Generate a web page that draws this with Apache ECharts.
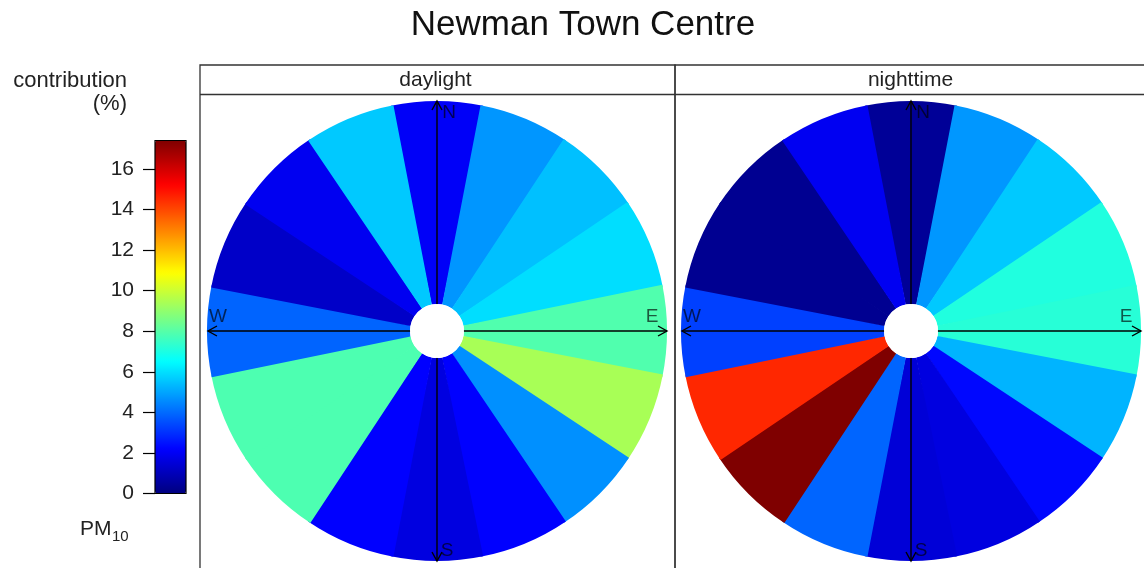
<!DOCTYPE html>
<html><head><meta charset="utf-8">
<script src="https://cdn.jsdelivr.net/npm/echarts@6/dist/echarts.min.js"></script>
<style>html,body{margin:0;padding:0;background:#fff}#c{width:1144px;height:568px}</style>
</head><body><div id="c"></div>
<script>
// ---- data ----
const directions = ['N','NNE','NE','ENE','E','ESE','SE','SSE','S','SSW','SW','WSW','W','WNW','NW','NNW'];
const daylight  = [2.05, 4.74, 5.45, 5.96, 7.9, 9.4, 4.64, 2.17, 1.65, 2.17, 7.85, 7.85, 3.89, 1.24, 1.93, 5.6];
const nighttime = [0.4, 4.75, 5.6, 7.07, 7.2, 5.25, 2.3, 1.65, 1.5, 3.9, 17.4, 14.55, 3.27, 0.3, 0.3, 1.95];
const panelNames = ['daylight', 'nighttime'];
const colorTicks = [0, 2, 4, 6, 8, 10, 12, 14, 16];
const scaleMax = 17.4;
const jet = ['#00007F','#0000FF','#007FFF','#00FFFF','#7FFF7F','#FFFF00','#FF7F00','#FF0000','#7F0000'];

// ---- layout ----
const FONT = '"Liberation Sans", Arial, sans-serif';
const panels = [
  {x0: 200, x1: 675, cx: 437, cy: 331},
  {x0: 675, x1: 1150, cx: 911, cy: 331}
];
const R = 230, R0 = 27;
const stripTop = 65, stripBot = 94.5;

const seriesData = [daylight, nighttime];

const graphics = [];
graphics.push({type:'text', x:583, y:25, z:100, style:{text:'Newman Town Centre', font:'35px ' + FONT, fill:'#111', textAlign:'center', textVerticalAlign:'middle'}});
panels.forEach((p, k) => {
  graphics.push({type:'rect', z:100, shape:{x:p.x0, y:stripTop, width:p.x1-p.x0, height:600}, style:{fill:'none', stroke:'#333', lineWidth:1.3}});
  graphics.push({type:'line', z:100, shape:{x1:p.x0, y1:stripBot, x2:p.x1, y2:stripBot}, style:{stroke:'#333', lineWidth:1.3}});
  graphics.push({type:'text', z:100, x:(p.x0+p.x1)/2 - 2, y:(stripTop+stripBot)/2, style:{text:panelNames[k], font:'21px ' + FONT, fill:'#222', textAlign:'center', textVerticalAlign:'middle'}});
  const cx = p.cx, cy = p.cy, a = 9, b = 5;
  const ls = {stroke:'#000', lineWidth:1.4, fill:'none'};
  graphics.push({type:'line', z:110, shape:{x1:cx-R+1, y1:cy, x2:cx+R, y2:cy}, style:ls});
  graphics.push({type:'line', z:110, shape:{x1:cx, y1:cy-R, x2:cx, y2:cy+R}, style:ls});
  graphics.push({type:'polyline', z:110, shape:{points:[[cx+R-a,cy-b],[cx+R,cy],[cx+R-a,cy+b]]}, style:ls});
  graphics.push({type:'polyline', z:110, shape:{points:[[cx-R+1+a,cy-b],[cx-R+1,cy],[cx-R+1+a,cy+b]]}, style:ls});
  graphics.push({type:'polyline', z:110, shape:{points:[[cx-b,cy-R+a],[cx,cy-R],[cx+b,cy-R+a]]}, style:ls});
  graphics.push({type:'polyline', z:110, shape:{points:[[cx-b,cy+R-a],[cx,cy+R],[cx+b,cy+R-a]]}, style:ls});
  graphics.push({type:'circle', z:120, shape:{cx:cx, cy:cy, r:R0}, style:{fill:'#fff'}});
  const lab = {font:'19px ' + FONT, fill:'rgba(0,0,0,0.65)', textAlign:'center', textVerticalAlign:'middle'};
  graphics.push({type:'text', z:115, x:cx+12, y:cy-218, style:Object.assign({text:'N'}, lab)});
  graphics.push({type:'text', z:115, x:cx+10, y:cy+220, style:Object.assign({text:'S'}, lab)});
  graphics.push({type:'text', z:115, x:cx+215, y:cy-14, style:Object.assign({text:'E'}, lab)});
  graphics.push({type:'text', z:115, x:cx-219, y:cy-14, style:Object.assign({text:'W'}, lab)});
});
graphics.push({type:'text', z:100, x:127, y:81, style:{text:'contribution', font:'22px ' + FONT, fill:'#222', textAlign:'right', textVerticalAlign:'middle'}});
graphics.push({type:'text', z:100, x:127, y:104, style:{text:'(%)', font:'22px ' + FONT, fill:'#222', textAlign:'right', textVerticalAlign:'middle'}});
graphics.push({type:'text', z:100, x:80, y:529, style:{text:'PM', font:'21px ' + FONT, fill:'#222', textAlign:'left', textVerticalAlign:'middle'}});
graphics.push({type:'text', z:100, x:112, y:537, style:{text:'10', font:'15px ' + FONT, fill:'#222', textAlign:'left', textVerticalAlign:'middle'}});

const option = {
  animation: false,
  backgroundColor: '#fff',
  polar: panels.map(p => ({center:[p.cx, p.cy], radius:[R0, R]})),
  angleAxis: panels.map((p, k) => ({polarIndex:k, type:'category', data:directions, startAngle:90 + 360/32, clockwise:true, boundaryGap:true, show:false})),
  radiusAxis: panels.map((p, k) => ({polarIndex:k, type:'value', min:0, max:1, show:false})),
  grid: {left:155, top:140.5, width:31, height:353, show:true, borderColor:'#000', borderWidth:1.2, backgroundColor:'transparent', z:10},
  xAxis: {type:'value', show:false, min:0, max:1},
  yAxis: {type:'value', min:0, max:scaleMax, position:'left', axisLine:{show:false}, splitLine:{show:false},
    axisTick:{show:true, inside:false, length:12, lineStyle:{color:'#000', width:1.2}, customValues:colorTicks},
    axisLabel:{show:true, fontSize:21, fontFamily:FONT, color:'#222', margin:21, customValues:colorTicks}},
  visualMap: {type:'continuous', min:0, max:scaleMax, dimension:2, seriesIndex:[0,1], orient:'vertical',
    left:155, top:140.5, itemWidth:31, itemHeight:353, padding:0, calculable:false, hoverLink:false, text:null, showLabel:false,
    inRange:{color:jet}},
  graphic: graphics,
  series: [
    ...seriesData.map((arr, k) => ({
      type:'bar', coordinateSystem:'polar', polarIndex:k, barCategoryGap:'-3%',
      data: arr.map((v, i) => [1, i, v]),
      itemStyle:{borderWidth:0}, silent:true
    })),
    {type:'scatter', xAxisIndex:0, yAxisIndex:0, data:[]}
  ]
};
const chart = echarts.init(document.getElementById('c'), null, {renderer:'canvas'});
chart.setOption(option);
</script></body></html>
